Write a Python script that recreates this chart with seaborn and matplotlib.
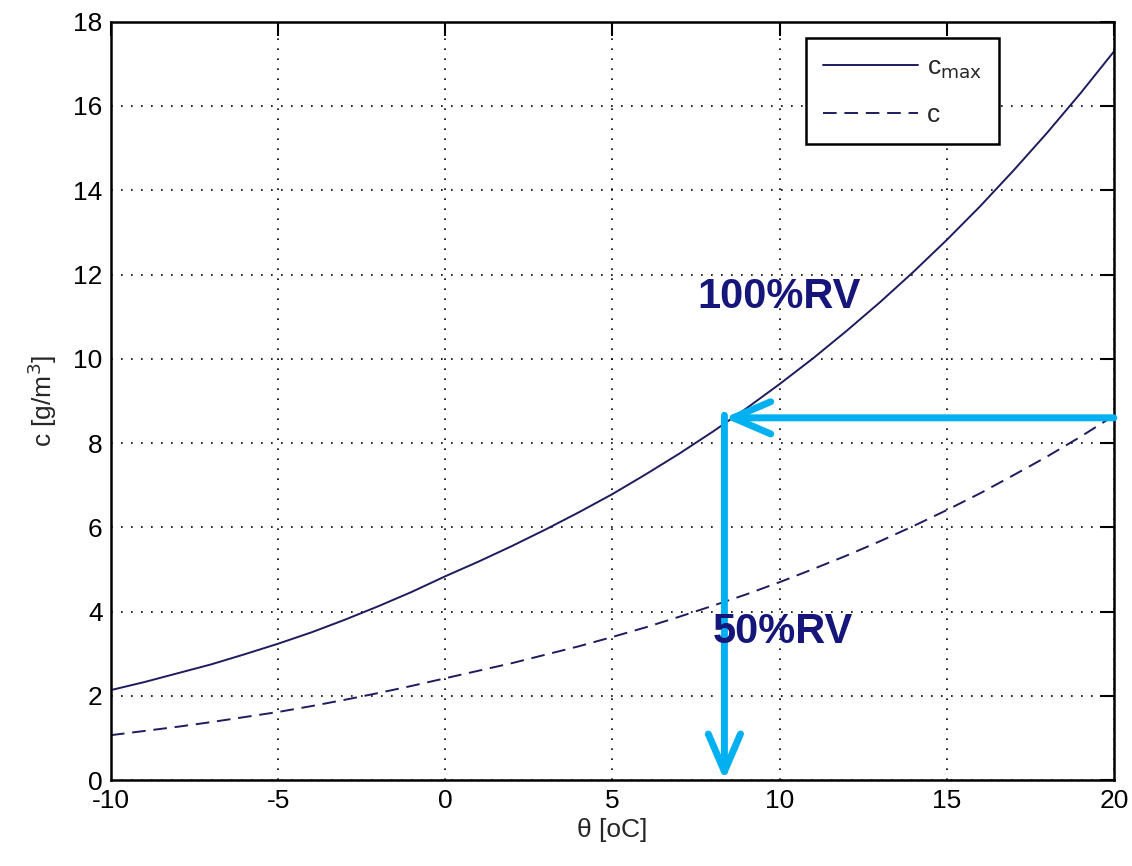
import seaborn as sns
import matplotlib.pyplot as plt
import pandas as pd

# temperature in degC and absolute humidity in g/m3
theta = list(range(-10, 21))
c_max = [2.14, 2.33, 2.54, 2.75, 2.99, 3.24, 3.51, 3.81, 4.13, 4.47, 4.84,
         5.19, 5.56, 5.95, 6.36, 6.79, 7.26, 7.75, 8.27, 8.82, 9.40,
         10.01, 10.66, 11.34, 12.06, 12.82, 13.62, 14.47, 15.36, 16.30, 17.29]
c_half = [1.07, 1.17, 1.27, 1.38, 1.50, 1.62, 1.76, 1.91, 2.07, 2.24, 2.42,
          2.60, 2.78, 2.98, 3.18, 3.40, 3.63, 3.88, 4.14, 4.41, 4.70,
          5.01, 5.33, 5.67, 6.03, 6.41, 6.81, 7.24, 7.68, 8.15, 8.65]
x_ticks = [-10, -5, 0, 5, 10, 15, 20]
y_ticks = [0, 2, 4, 6, 8, 10, 12, 14, 16, 18]
dew_x = 8.35
dew_y = 8.6

sns.set_style("white")
plt.rcParams['font.family'] = ['Liberation Sans', 'DejaVu Sans']
plt.rcParams['axes.unicode_minus'] = False

df = pd.DataFrame({'theta': theta, 'c_max': c_max, 'c': c_half})

fig, ax = plt.subplots(figsize=(11.32, 8.66), dpi=100)
fig.subplots_adjust(left=0.098, right=0.984, top=0.975, bottom=0.099)

line_col = '#1c1c5e'
sns.lineplot(data=df, x='theta', y='c_max', ax=ax, color=line_col, lw=1.4,
             label='c$_{\\mathrm{max}}$')
sns.lineplot(data=df, x='theta', y='c', ax=ax, color=line_col, lw=1.4,
             label='c')
ax.lines[1].set_dashes((7, 4))

ax.set_xlim(-10, 20)
ax.set_ylim(0, 18)
ax.set_xticks(x_ticks)
ax.set_yticks(y_ticks)
ax.grid(True, color='black', linestyle=(0, (1, 5)), lw=1.2)
ax.tick_params(direction='in', length=10, width=1.5, top=True, right=True,
               labelsize=19, colors='black', pad=6)
for s in ax.spines.values():
    s.set_color('black')
    s.set_linewidth(1.8)

ax.set_xlabel('θ [oC]', fontsize=19, labelpad=4)
ax.set_ylabel('c [g/m$^3$]', fontsize=19, labelpad=10)

leg = ax.legend(loc='upper right', bbox_to_anchor=(0.899, 0.996), fontsize=19,
                frameon=True, fancybox=False, framealpha=1, edgecolor='black',
                handlelength=3.6, handletextpad=0.35, borderpad=0.65,
                labelspacing=0.85)
leg.get_frame().set_linewidth(1.8)
for h in leg.get_lines()[1:]:
    h.set_dashes((7, 4))

arrow_col = '#00b0f0'
ax.annotate('', xy=(dew_x, dew_y), xytext=(20, dew_y),
            arrowprops=dict(arrowstyle='->,head_length=1.35,head_width=0.58',
                            color=arrow_col, lw=5, mutation_scale=20,
                            shrinkA=0, shrinkB=0))
ax.annotate('', xy=(dew_x, 0), xytext=(dew_x, dew_y + 0.06),
            arrowprops=dict(arrowstyle='->,head_length=1.35,head_width=0.58',
                            color=arrow_col, lw=5, mutation_scale=20,
                            shrinkA=0, shrinkB=0))

ax.text(7.53, 11.47, '100%RV', fontsize=30, fontweight='bold', color='#15157a',
        va='center', ha='left')
ax.text(8.0, 3.52, '50%RV', fontsize=30, fontweight='bold', color='#15157a',
        va='center', ha='left')

fig.savefig('out.png', dpi=100)
